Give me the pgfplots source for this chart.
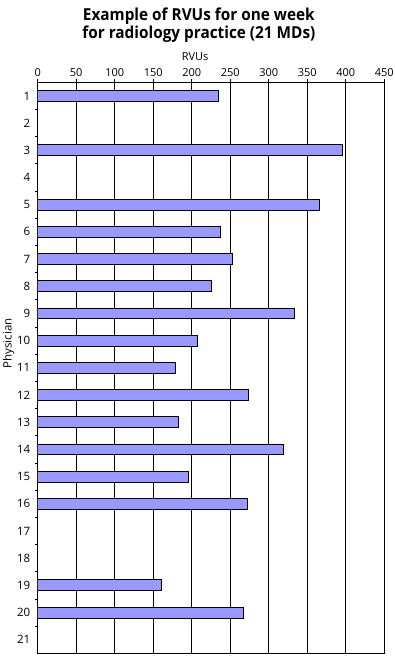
\documentclass[border=0pt]{standalone}
\usepackage{fontspec}
\setmainfont{Open Sans}
\newfontfamily\titlefont[FakeStretch=0.93]{Open Sans}
\usepackage{pgfplots}
\pgfplotsset{compat=1.18}
\definecolor{barblue}{RGB}{153,153,255}
\begin{document}
\begin{tikzpicture}[x=1pt,y=1pt]
\useasboundingbox (0,0) rectangle (394,662);
\begin{axis}[
  at={(37.7pt,8.7pt)}, anchor=south west,
  scale only axis, width=346.6pt, height=571pt,
  xbar, bar width=0.4,
  xmin=0, xmax=450,
  ymin=0.5, ymax=21.5, y dir=reverse,
  xtick={0,50,...,450},
  xtick pos=upper, xticklabel pos=upper,
  tick align=outside,
  major tick length=3pt, minor tick length=3pt,
  xmajorgrids, grid style={black, line width=0.8pt},
  axis line style={black, line width=0.8pt},
  every tick/.style={black, line width=0.8pt},
  ytick={1,...,21},
  every major y tick/.style={draw=none},
  minor ytick={1.5,2.5,...,20.5},
  ytick pos=left,
  /pgf/number format/assume math mode=true,
  xticklabel style={yshift=-1pt, font=\fontsize{11}{13}\selectfont},
  yticklabel style={xshift=-1pt, font=\fontsize{11.5}{13}\selectfont},
  xlabel={RVUs},
  xlabel style={at={(axis description cs:0.454,1.045)}, anchor=center, font=\fontsize{11}{13}\selectfont},
  ylabel={Physician},
  ylabel style={at={(axis description cs:-0.084,0.5426)}, anchor=center, rotate=0, font=\fontsize{11.5}{13}\selectfont},
  title={Example of RVUs for one week\\for radiology practice (21 MDs)},
  title style={at={(axis description cs:0.465,1.089)}, anchor=center, align=center, font=\titlefont\bfseries\fontsize{16.5}{18}\selectfont},
]
\addplot[fill=barblue, draw=black, line width=0.8pt] coordinates {
(235,1) (395,3) (366,5) (237,6) (253,7) (225,8) (333,9) (207,10)
(179,11) (274,12) (183,13) (319,14) (196,15) (272,16) (161,19) (267,20)
};
\end{axis}
\end{tikzpicture}
\end{document}
